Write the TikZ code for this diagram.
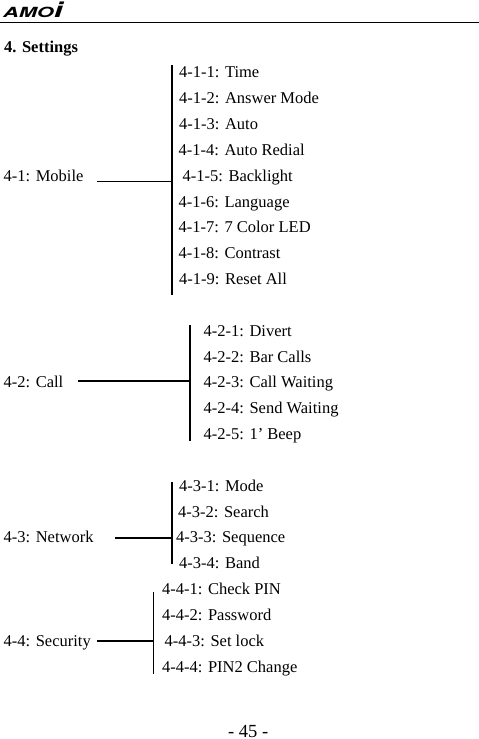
\documentclass[tikz,border=0pt]{standalone}
\usepackage{fontspec}
\setmainfont{Liberation Serif}
\newfontfamily\logofont{TeX Gyre Heros}
\tikzset{
  entry/.style={
    anchor=base west,
    inner sep=0pt,
    font=\fontsize{16.5}{18}\selectfont
  },
  heading/.style={
    entry,
    font=\fontsize{16.5}{18}\selectfont\bfseries
  },
  pagemark/.style={
    entry,
    font=\fontsize{18.5}{20}\selectfont
  },
  logo/.style={
    anchor=base west,
    inner sep=0pt,
    font=\fontsize{14}{16}\logofont\bfseries\itshape
  },
  thinline/.style={draw,line width=1pt},
  thickline/.style={draw,line width=2pt}
}

\begin{document}
\begin{tikzpicture}[x=1pt,y=-1pt]
  \useasboundingbox (0,0) rectangle (479,739);

  \node[logo] (amoi) at (3,17.5) {\scalebox{1.55}[1]{AMO{\fontsize{21}{21}\selectfont i}}};
  \coordinate (ruleleft) at (0,22);
  \coordinate (ruleright) at (479,22);
  \draw[thinline] (ruleleft) -- (ruleright);
  \node[heading] (settings) at (4,52) {4. Settings};

  \node[entry] (mobile) at (3.5,181) {4-1: Mobile};
  \node[entry] (time) at (179,77) {4-1-1: Time};
  \node[entry] (answer) at (179,103) {4-1-2: Answer Mode};
  \node[entry] (auto) at (179,129) {4-1-3: Auto};
  \node[entry] (redial) at (178.5,155) {4-1-4: Auto Redial};
  \node[entry] (backlight) at (182.5,181) {4-1-5: Backlight};
  \node[entry] (language) at (178.5,207) {4-1-6: Language};
  \node[entry] (led) at (178.5,232) {4-1-7: 7 Color LED};
  \node[entry] (contrast) at (178.5,258) {4-1-8: Contrast};
  \node[entry] (reset) at (179,284) {4-1-9: Reset All};
  \coordinate (mobilestart) at (97,181);
  \coordinate (mobilejoin) at (171.5,181);
  \coordinate (mobiletop) at (171.5,65);
  \coordinate (mobilebottom) at (171.5,294.5);
  \draw[thinline] (mobilestart) -- (mobilejoin);
  \draw[thickline] (mobiletop) -- (mobilebottom);

  \node[entry] (call) at (3.5,387) {4-2: Call};
  \node[entry] (divert) at (203.5,336) {4-2-1: Divert};
  \node[entry] (bar) at (203.5,362) {4-2-2: Bar Calls};
  \node[entry] (waiting) at (203.5,387) {4-2-3: Call Waiting};
  \node[entry] (send) at (203.5,413) {4-2-4: Send Waiting};
  \node[entry] (beep) at (203.5,439) {4-2-5: 1’ Beep};
  \coordinate (callstart) at (78,381);
  \coordinate (calljoin) at (190,381);
  \coordinate (calltop) at (190,325);
  \coordinate (callbottom) at (190,441);
  \draw[thickline] (callstart) -- (calljoin);
  \draw[thickline] (calltop) -- (callbottom);

  \node[entry] (network) at (3.5,542) {4-3: Network};
  \node[entry] (mode) at (179,491) {4-3-1: Mode};
  \node[entry] (search) at (178,517) {4-3-2: Search};
  \node[entry] (sequence) at (176,542) {4-3-3: Sequence};
  \node[entry] (band) at (179,568) {4-3-4: Band};
  \coordinate (networkstart) at (115,538);
  \coordinate (networkjoin) at (172,538);
  \coordinate (networktop) at (172,482);
  \coordinate (networkbottom) at (172,564);
  \draw[thickline] (networkstart) -- (networkjoin);
  \draw[thickline] (networktop) -- (networkbottom);

  \node[entry] (security) at (3.5,646) {4-4: Security};
  \node[entry] (pin) at (162,594) {4-4-1: Check PIN};
  \node[entry] (password) at (162,620) {4-4-2: Password};
  \node[entry] (lock) at (164.5,646) {4-4-3: Set lock};
  \node[entry] (change) at (162,672) {4-4-4: PIN2 Change};
  \coordinate (securitystart) at (97,641);
  \coordinate (securityjoin) at (153.5,641);
  \coordinate (securitytop) at (153.5,592);
  \coordinate (securitybottom) at (153.5,674);
  \draw[thickline] (securitystart) -- (securityjoin);
  \draw[thinline] (securitytop) -- (securitybottom);

  \node[pagemark] (page) at (228,737) {- 45 -};
\end{tikzpicture}
\end{document}
